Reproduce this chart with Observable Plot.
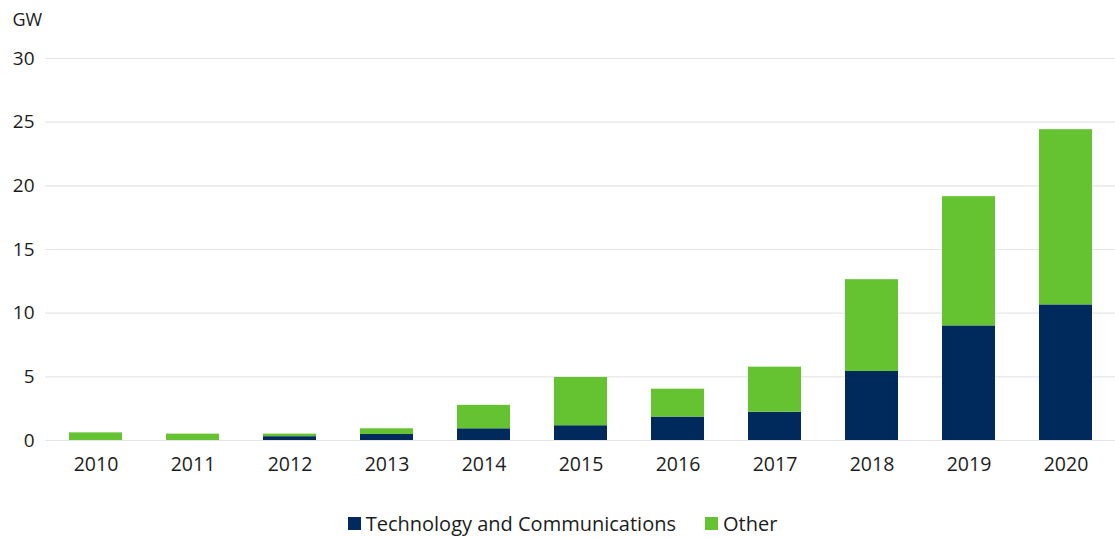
<!DOCTYPE html>
<html>
<head>
<meta charset="utf-8">
<script src="https://cdn.jsdelivr.net/npm/d3@7"></script>
<script src="https://cdn.jsdelivr.net/npm/@observablehq/plot@0.6"></script>
<style>
  html, body { margin: 0; padding: 0; background: #fff; }
  body { width: 1115px; height: 538px; overflow: hidden; font-family: "Open Sans", sans-serif; }
  #legend { display: flex; justify-content: center; align-items: center; gap: 29px; font-size: 20px; color: #1c1c1c; margin-top: 10px; padding-left: 10px; }
  #legend .item { display: flex; align-items: center; gap: 5px; }
  #legend .sw { width: 13px; height: 13px; display: inline-block; }
</style>
</head>
<body>
<div id="chart"></div>
<div id="legend"></div>
<script>
const years = ["2010","2011","2012","2013","2014","2015","2016","2017","2018","2019","2020"];
const techComm = [0, 0, 0.3, 0.47, 0.92, 1.16, 1.84, 2.22, 5.42, 9.0, 10.65];
const totals = [0.6, 0.5, 0.5, 0.92, 2.76, 4.95, 4.03, 5.76, 12.63, 19.15, 24.41];
const seriesNames = ["Technology and Communications", "Other"];
const seriesColors = ["#002a5c", "#65c332"];
const yTicks = [0, 5, 10, 15, 20, 25, 30];
const unitLabel = ["GW"];

const data = [];
years.forEach((y, i) => {
  data.push({year: y, series: seriesNames[0], value: techComm[i]});
  data.push({year: y, series: seriesNames[1], value: +(totals[i] - techComm[i]).toFixed(2)});
});

const chart = Plot.plot({
  width: 1115,
  height: 500,
  marginLeft: 45,
  marginRight: 0,
  marginTop: 58,
  marginBottom: 60,
  style: {fontFamily: "Open Sans, sans-serif", fontSize: "19px", color: "#1c1c1c", background: "#fff"},
  x: {domain: years, paddingInner: 0.456, paddingOuter: 0.21, label: null},
  y: {domain: [0, 30], label: null},
  color: {domain: seriesNames, range: seriesColors},
  marks: [
    Plot.gridY(yTicks, {stroke: "#e6e6e6", strokeOpacity: 1, strokeWidth: 1.2}),
    Plot.axisY(yTicks, {tickSize: 0, tickPadding: 11, fontSize: 19, fill: "#1c1c1c", label: null}),
    Plot.axisX({tickSize: 0, tickPadding: 17, fontSize: 19.5, fill: "#1c1c1c", label: null}),
    Plot.barY(data, {x: "year", y: "value", fill: "series", order: seriesNames}),
    Plot.text(unitLabel, {text: d => d, frameAnchor: "top-left", dx: -33, dy: -38, textAnchor: "start", lineAnchor: "middle", fontSize: 18, fill: "#1c1c1c"})
  ]
});
document.getElementById("chart").appendChild(chart);

const legend = document.getElementById("legend");
seriesNames.forEach((n, i) => {
  const it = document.createElement("div");
  it.className = "item";
  const sw = document.createElement("span");
  sw.className = "sw";
  sw.style.background = seriesColors[i];
  const t = document.createElement("span");
  t.textContent = n;
  it.appendChild(sw); it.appendChild(t);
  legend.appendChild(it);
});
</script>
</body>
</html>
